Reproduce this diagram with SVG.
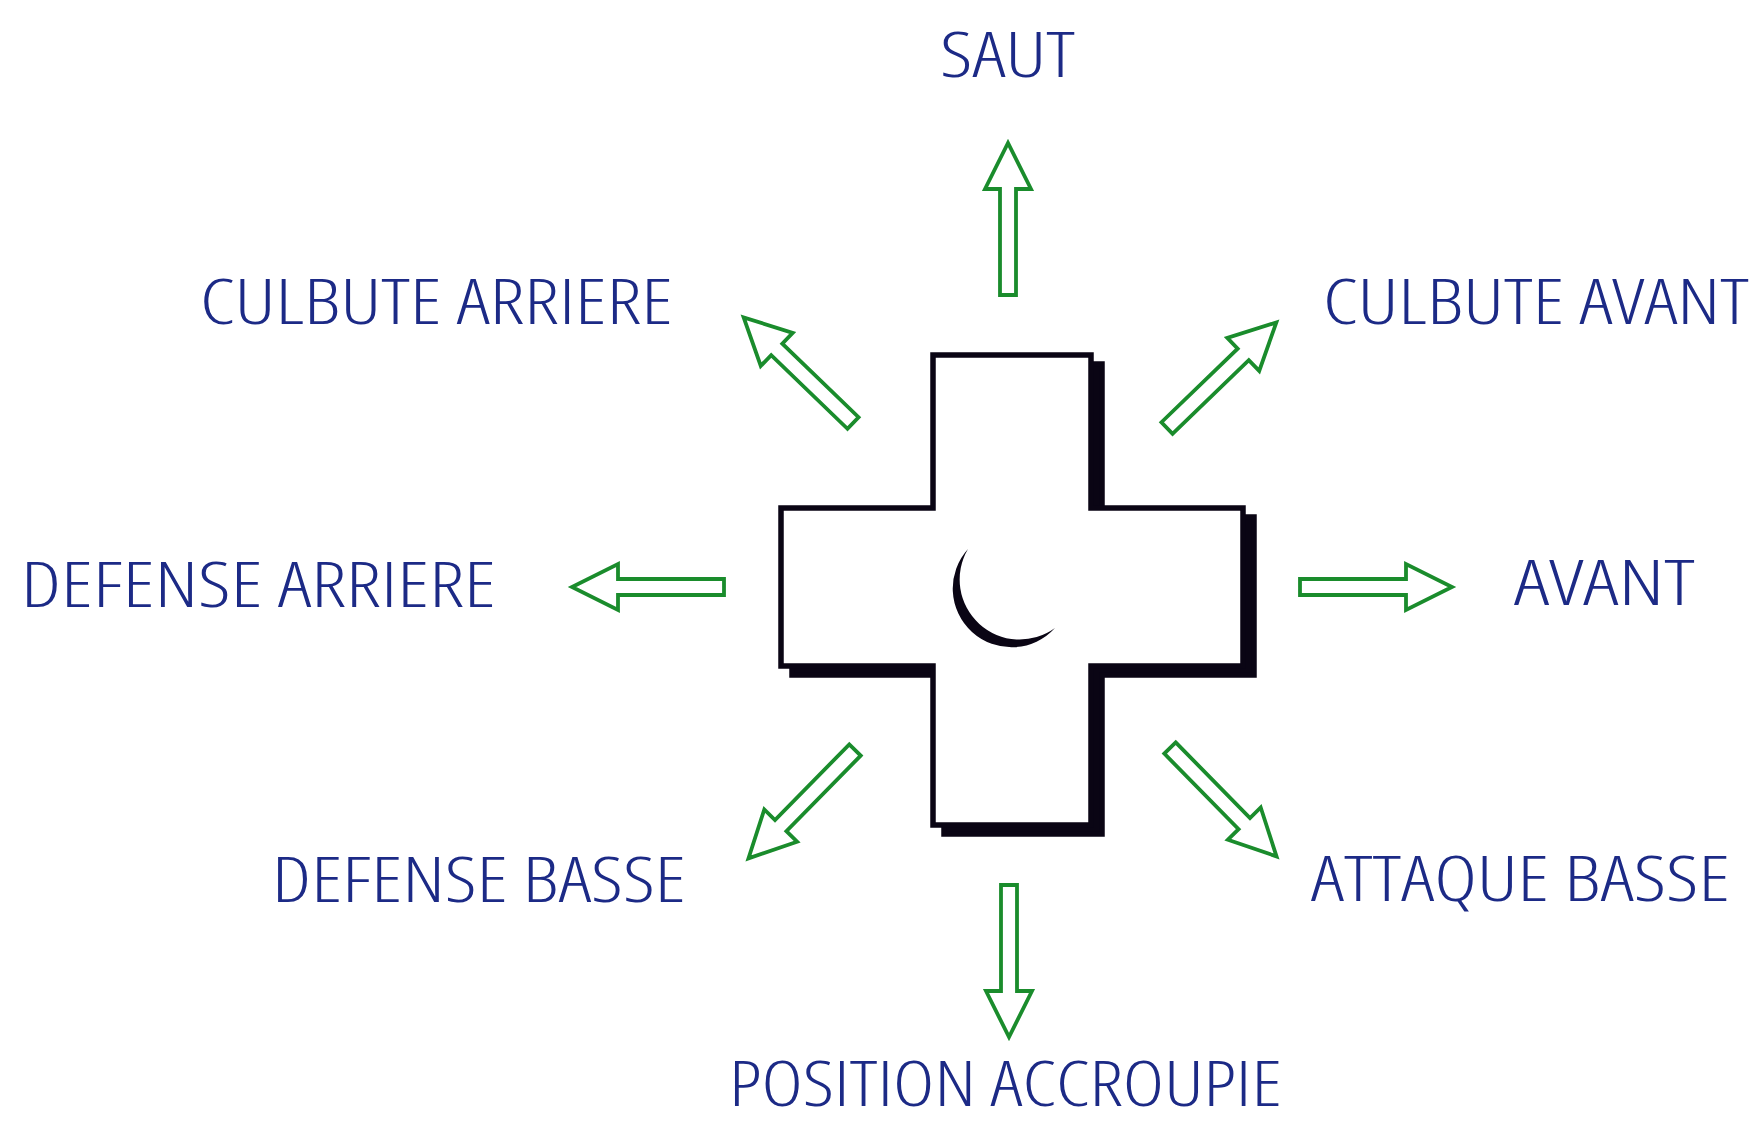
<svg xmlns="http://www.w3.org/2000/svg" xmlns:xlink="http://www.w3.org/1999/xlink" width="1758" height="1123" viewBox="0 0 1758 1123">
  <style>
    .label { font-family: "Open Sans", "Liberation Sans", sans-serif; font-weight: 350; font-stretch: 80%; font-size: 62px; fill: #1c2a86; }
    .arrow { fill: #ffffff; stroke: #1a8c2c; stroke-width: 3.8; stroke-linejoin: miter; }
    .cross { fill: #ffffff; stroke: #0a0514; stroke-width: 5.5; stroke-linejoin: miter; }
    .shadow { fill: #0a0514; stroke: #0a0514; stroke-width: 5.5; }
  </style>
  <defs>
    <!-- hollow block arrow, tail at origin, pointing along +x -->
    <polygon id="blockArrow" class="arrow" points="0,-8 106,-8 106,-23 152,0 106,23 106,8 0,8"/>
    <path id="crossShape" d="M933 355 H1091 V508 H1243 V666 H1091 V825 H933 V666 H781 V508 H933 Z"/>
  </defs>
  <rect width="1758" height="1123" fill="#ffffff"/>

  <!-- central cross with drop shadow and crescent -->
  <g id="cross">
    <use xlink:href="#crossShape" class="shadow" transform="translate(11 9)"/>
    <use xlink:href="#crossShape" class="cross"/>
    <path d="M968 549 A58 58 0 0 0 1055 628 A60 60 0 0 1 968 549 Z" fill="#0a0514"/>
  </g>

  <!-- direction arrows -->
  <g id="connectors">
    <use xlink:href="#blockArrow" transform="translate(1008 295) rotate(-90)"/>
    <use xlink:href="#blockArrow" transform="translate(1009 885) rotate(90)"/>
    <use xlink:href="#blockArrow" transform="translate(724 587) rotate(180)"/>
    <use xlink:href="#blockArrow" transform="translate(1300 587)"/>
    <use xlink:href="#blockArrow" transform="translate(853 423) rotate(-136)"/>
    <use xlink:href="#blockArrow" transform="translate(1167 428) rotate(-44)"/>
    <use xlink:href="#blockArrow" transform="translate(855 750) rotate(134.5)"/>
    <use xlink:href="#blockArrow" transform="translate(1170 748) rotate(45.5)"/>
  </g>

  <!-- labels -->
  <g id="saut"><text class="label" x="940" y="77" textLength="135" lengthAdjust="spacingAndGlyphs">SAUT</text></g>
  <g id="culbute-arriere"><text class="label" x="200" y="324" textLength="473" lengthAdjust="spacingAndGlyphs">CULBUTE ARRIERE</text></g>
  <g id="culbute-avant"><text class="label" x="1323" y="324" textLength="426" lengthAdjust="spacingAndGlyphs">CULBUTE AVANT</text></g>
  <g id="defense-arriere"><text class="label" x="21" y="607" textLength="475" lengthAdjust="spacingAndGlyphs">DEFENSE ARRIERE</text></g>
  <g id="avant"><text class="label" x="1514" y="605" textLength="181" lengthAdjust="spacingAndGlyphs">AVANT</text></g>
  <g id="defense-basse"><text class="label" x="272" y="902" textLength="414" lengthAdjust="spacingAndGlyphs">DEFENSE BASSE</text></g>
  <g id="attaque-basse"><text class="label" x="1311" y="901" textLength="419" lengthAdjust="spacingAndGlyphs">ATTAQUE BASSE</text></g>
  <g id="position-accroupie"><text class="label" x="729" y="1106" textLength="553" lengthAdjust="spacingAndGlyphs">POSITION ACCROUPIE</text></g>
</svg>
